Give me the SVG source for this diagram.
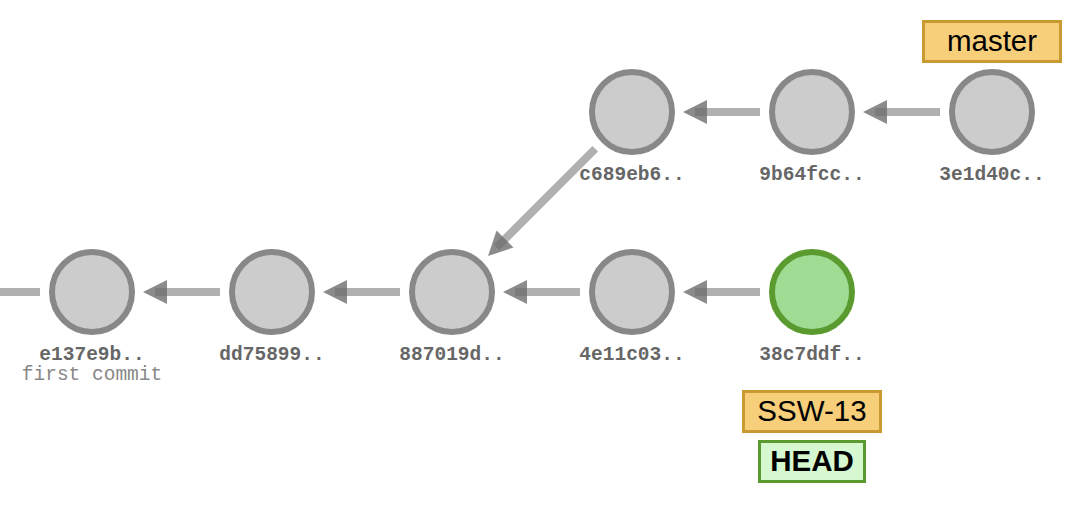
<svg xmlns="http://www.w3.org/2000/svg" xmlns:xlink="http://www.w3.org/1999/xlink" width="1072" height="506" viewBox="0 0 1072 506">
<style>
.edge{stroke:#b0b0b0;stroke-width:8;fill:none}
.head{fill:#6e6e6e;opacity:0.8}
.commit{fill:#cccccc;stroke:#888888;stroke-width:6}
.current{fill:#a0dc94;stroke:#5a9a2e;stroke-width:6}
.sha{font-family:"Liberation Mono","Courier New",monospace;font-weight:bold;font-size:19.5px;fill:#666666;text-anchor:middle}
.msg{font-family:"Liberation Mono","Courier New",monospace;font-size:19.5px;fill:#888888;text-anchor:middle}
.branch{fill:#f7cf7a;stroke:#c99a32;stroke-width:3}
.headbox{fill:#d6f7cf;stroke:#5a9a2e;stroke-width:3}
.btext{font-family:"Liberation Sans",Arial,sans-serif;font-size:29.5px;fill:#000;text-anchor:middle}
.htext{font-family:"Liberation Sans",Arial,sans-serif;font-size:29.5px;font-weight:bold;fill:#000;text-anchor:middle}
</style>
<defs>
<polygon id="ah" class="head" points="51,0 75,-12 75,12"/>
</defs>
<g id="connectors">
<line class="edge" x1="0" y1="292" x2="40" y2="292"/>
<g transform="translate(92,292)"><line class="edge" x1="63" y1="0" x2="128" y2="0"/><use xlink:href="#ah"/></g>
<g transform="translate(272,292)"><line class="edge" x1="63" y1="0" x2="128" y2="0"/><use xlink:href="#ah"/></g>
<g transform="translate(452,292)"><line class="edge" x1="63" y1="0" x2="128" y2="0"/><use xlink:href="#ah"/></g>
<g transform="translate(632,292)"><line class="edge" x1="63" y1="0" x2="128" y2="0"/><use xlink:href="#ah"/></g>
<g transform="translate(632,112)"><line class="edge" x1="63" y1="0" x2="128" y2="0"/><use xlink:href="#ah"/></g>
<g transform="translate(812,112)"><line class="edge" x1="63" y1="0" x2="128" y2="0"/><use xlink:href="#ah"/></g>
<g transform="translate(452,292) rotate(-45)"><line class="edge" x1="63" y1="0" x2="202.6" y2="0"/><use xlink:href="#ah"/></g>
</g>
<g id="e137e9b"><circle class="commit" cx="92" cy="292" r="40"/><text class="sha" x="92" y="360">e137e9b..</text><text class="msg" x="92" y="380">first commit</text></g>
<g id="dd75899"><circle class="commit" cx="272" cy="292" r="40"/><text class="sha" x="272" y="360">dd75899..</text></g>
<g id="887019d"><circle class="commit" cx="452" cy="292" r="40"/><text class="sha" x="452" y="360">887019d..</text></g>
<g id="4e11c03"><circle class="commit" cx="632" cy="292" r="40"/><text class="sha" x="632" y="360">4e11c03..</text></g>
<g id="38c7ddf"><circle class="current" cx="812" cy="292" r="40"/><text class="sha" x="812" y="360">38c7ddf..</text></g>
<g id="c689eb6"><circle class="commit" cx="632" cy="112" r="40"/><text class="sha" x="632" y="180">c689eb6..</text></g>
<g id="9b64fcc"><circle class="commit" cx="812" cy="112" r="40"/><text class="sha" x="812" y="180">9b64fcc..</text></g>
<g id="3e1d40c"><circle class="commit" cx="992" cy="112" r="40"/><text class="sha" x="992" y="180">3e1d40c..</text></g>
<g id="master"><rect class="branch" x="923.5" y="21.5" width="137" height="40"/><text class="btext" x="992" y="51">master</text></g>
<g id="SSW-13"><rect class="branch" x="743.5" y="391.5" width="137" height="40"/><text class="btext" x="812" y="421">SSW-13</text></g>
<g id="HEAD"><rect class="headbox" x="759.5" y="441.5" width="105" height="40"/><text class="htext" x="812" y="471">HEAD</text></g>
</svg>
